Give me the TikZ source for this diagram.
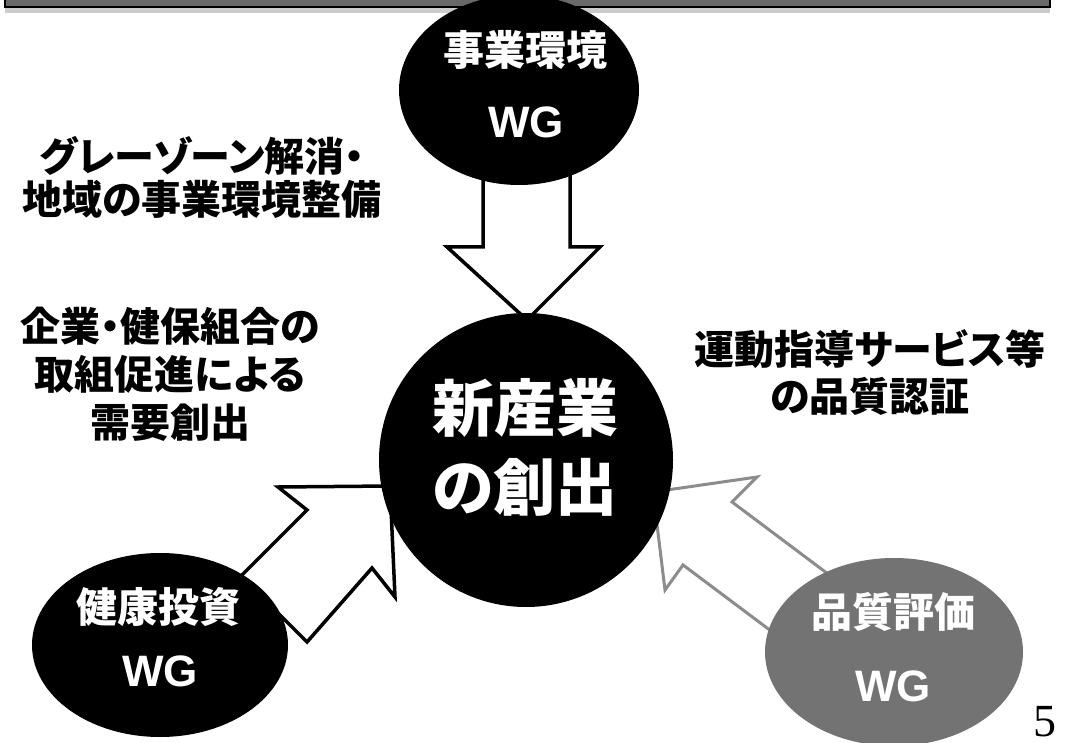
\documentclass[tikz,border=0pt]{standalone}
\usepackage{fontspec}
\usetikzlibrary{shapes.geometric}
\newfontfamily\jp[RawFeature=+palt]{Noto Sans CJK JP}
\newfontfamily\wg{Liberation Sans}
\newfontfamily\pgf{Liberation Serif}
\definecolor{eg}{RGB}{115,115,115}
\definecolor{ag}{RGB}{140,140,140}
\definecolor{band}{RGB}{105,105,105}
\begin{document}
\begin{tikzpicture}[x=1pt,y=-1pt,
  blk/.style={draw=black,line width=3.5pt,fill=white,line join=miter},
  gblk/.style={draw=ag,line width=3pt,fill=white,line join=miter},
  wgtxt/.style={text=white,inner sep=0pt,font=\wg\bfseries\fontsize{44}{44}\selectfont},
  jpw/.style={text=white,inner sep=0pt,font=\jp\bfseries\fontsize{41}{41}\selectfont},
  jpc/.style={text=white,inner sep=0pt,font=\jp\bfseries\fontsize{62}{62}\selectfont},
  lbl/.style={align=center,inner sep=0pt},
  blob/.style={ellipse,inner sep=0pt,fill=#1}]
\useasboundingbox (0,0) rectangle (1065,743);
\fill[white] (0,0) rectangle (1065,743);
% light strip under top band
\fill[gray!40] (5,6) rectangle (1050,13);
% block arrows
\draw[blk] (483,150) -- (483,247) -- (447,247) -- (527,320) -- (600,247) -- (570,247) -- (570,150) -- cycle;
\draw[blk] (241,576) -- (307,510) -- (278,487) -- (390,486) -- (395,597) -- (372,568) -- (307,642) -- cycle;
\draw[gblk] (852,592) -- (732,502) -- (757,477) -- (653,492) -- (665,590) -- (683,565) -- (803,655) -- cycle;
% top band
\filldraw[fill=band,draw=black,line width=2pt] (5,-5) rectangle (1050,7);
% ellipses
\node[blob=black,minimum width=240pt,minimum height=190pt] (top) at (519,90) {};
\node[circle,inner sep=0pt,fill=black,minimum size=294pt] (core) at (526,460) {};
\node[blob=black,minimum width=256pt,minimum height=184pt] (inv) at (160,645) {};
\node[blob=eg,minimum width=258pt,minimum height=188pt] (qual) at (894,652) {};
% texts in shapes
\node[jpw] (topA) at (525,50) {事業環境};
\node[wgtxt] (topB) at (526,122) {WG};
\node[jpc] (coreA) at (525,408) {新産業};
\node[jpc] (coreB) at (525,487) {の創出};
\node[jpw] (invA) at (158,607) {健康投資};
\node[wgtxt] (invB) at (160,671) {WG};
\node[jpw] (qualA) at (893,612) {品質評価};
\node[wgtxt] (qualB) at (893,686) {WG};
% labels
\node[lbl,font=\jp\bfseries\fontsize{40}{43}\selectfont] (labA) at (202,177) {グレーゾーン解消・\\地域の事業環境整備};
\node[lbl,font=\jp\bfseries\fontsize{40}{48}\selectfont] (labB) at (170,374) {企業・健保組合の\\取組促進による\\需要創出};
\node[lbl,font=\jp\bfseries\fontsize{40}{47}\selectfont] (labC) at (870,373) {運動指導サービス等\\の品質認証};
% page number
\node[anchor=base,inner sep=0pt,font=\pgf\fontsize{46}{46}\selectfont] (pnum) at (1045,736) {5};
\end{tikzpicture}
\end{document}
